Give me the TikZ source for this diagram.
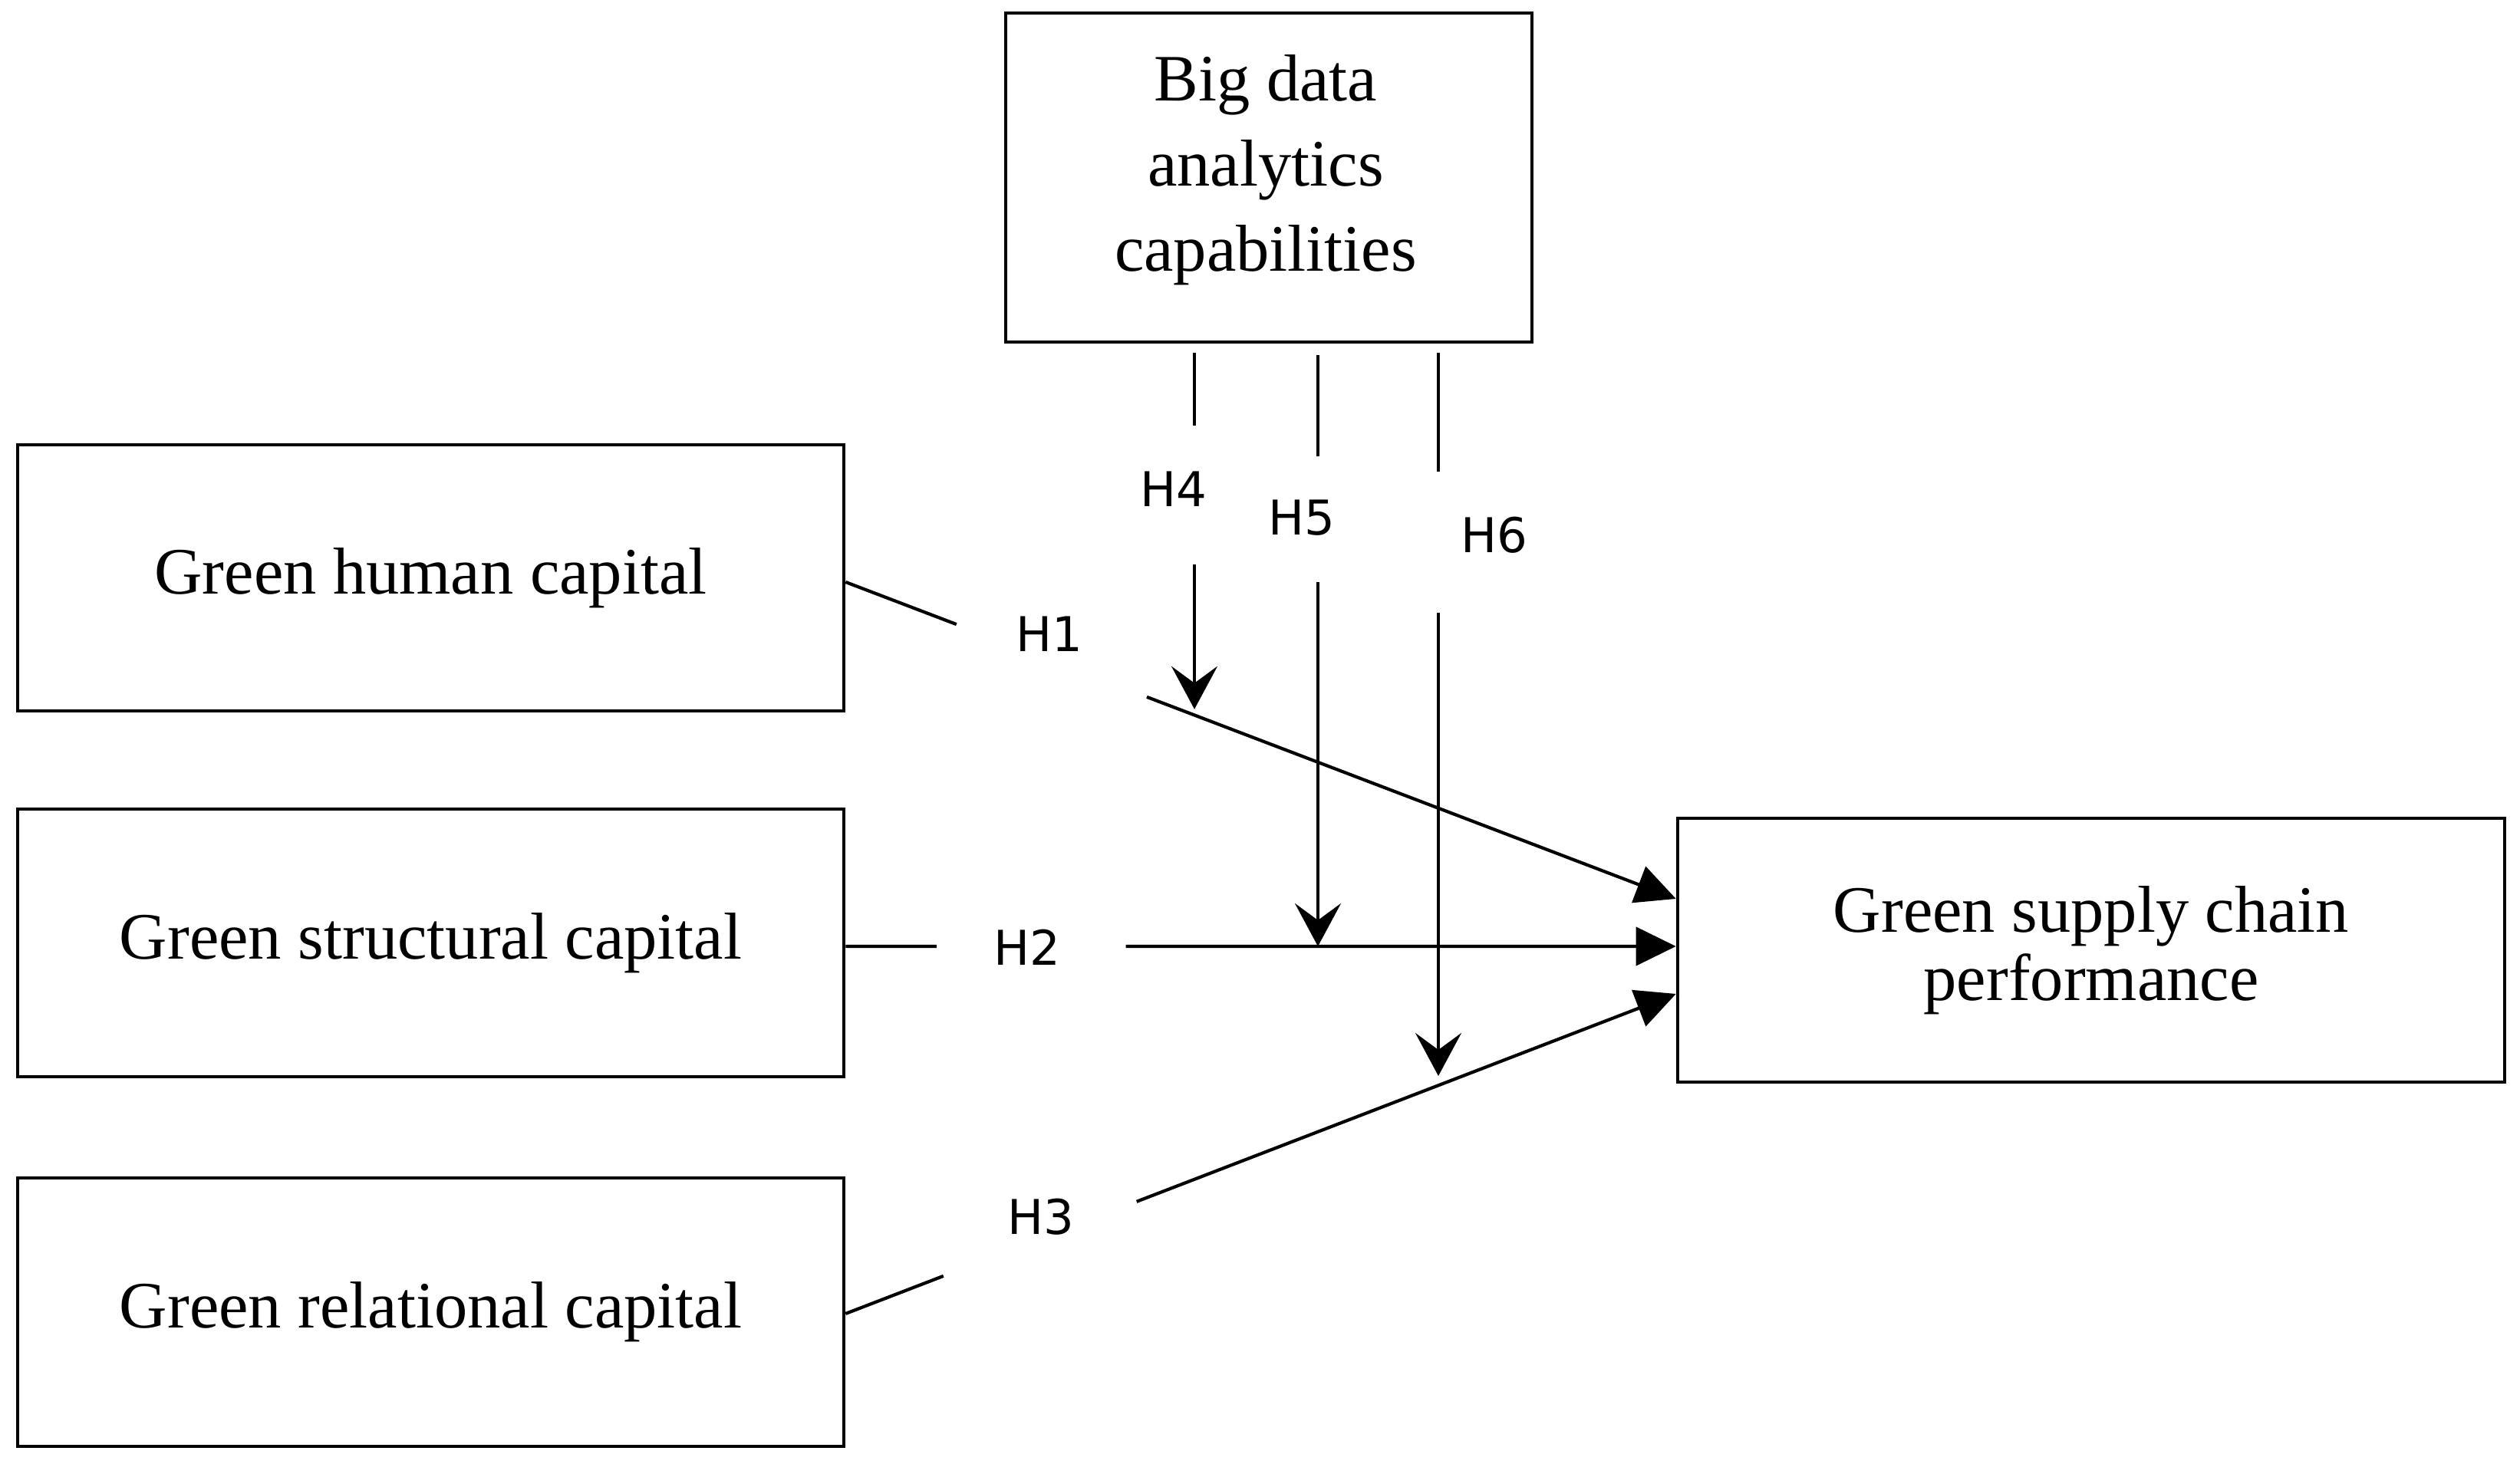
\documentclass[tikz,border=0pt]{standalone}
\usepackage{fontspec}
\setmainfont{Liberation Serif}
\newfontfamily\lblfont{DejaVu Sans}
\usetikzlibrary{arrows.meta,calc}
\begin{document}
\begin{tikzpicture}[
  box/.style={draw=black, line width=1.3pt, rectangle, align=center, inner sep=0pt,
              font=\fontsize{24.6}{31.6}\selectfont},
  hlabel/.style={font=\lblfont\fontsize{17.8}{20}\selectfont, inner sep=0pt},
  conn/.style={draw=black, line width=1.2pt},
  mainarr/.style={conn, -{Triangle[length=5.2mm,width=5mm]}},
  modarr/.style={conn, -{Stealth[length=5.6mm,width=6mm,inset=2.2mm]}}
]
\useasboundingbox (0,0) rectangle (32.85,19.09);

% boxes
\node[box, minimum width=6.86cm, minimum height=4.29cm] (bda) at (16.54,16.775) {};
\node[font=\fontsize{24.6}{31.6}\selectfont, align=center, inner sep=0pt] (bdatext)
  at ($(bda.center)+(-0.04,0.1)$) {Big data\\analytics\\capabilities};
\node[box, minimum width=10.77cm, minimum height=3.47cm] (ghc) at (5.615,11.555)
  {\raisebox{0.05cm}{Green human capital}};
\node[box, minimum width=10.77cm, minimum height=3.49cm] (gsc) at (5.615,6.795)
  {Green structural capital};
\node[box, minimum width=10.77cm, minimum height=3.50cm] (grc) at (5.615,1.98)
  {Green relational capital};
\node[box, minimum width=10.78cm, minimum height=3.44cm,
      font=\fontsize{24.6}{25.3}\selectfont] (gscp) at (27.26,6.70)
  {Green supply chain\\performance};

% hypothesis labels
\node[hlabel] (H1) at (13.68,10.82) {H1};
\node[hlabel] (H2) at (13.39,6.74) {H2};
\node[hlabel] (H3) at (13.57,3.22) {H3};
\node[hlabel] (H4) at (15.30,12.71) {H4};
\node[hlabel] (H5) at (16.97,12.34) {H5};
\node[hlabel] (H6) at (19.48,12.11) {H6};

% direct paths (with gaps for labels)
\coordinate (h1s) at ($(ghc.east)+(0,-0.055)$);
\coordinate (h1e) at ($(gscp.west)+(0,0.67)$);
\coordinate (h1a) at ($(h1s)!0.1335!(h1e)$);
\coordinate (h1b) at ($(h1s)!0.3628!(h1e)$);
\draw[conn] (h1s) -- (h1a);
\draw[mainarr] (h1b) -- (h1e);

\coordinate (h2s) at ($(gsc.east)+(0,-0.045)$);
\coordinate (h2e) at ($(gscp.west)+(0,0.05)$);
\coordinate (h2a) at ($(h2s)!0.1095!(h2e)$);
\coordinate (h2b) at ($(h2s)!0.3376!(h2e)$);
\draw[conn] (h2s) -- (h2a);
\draw[mainarr] (h2b) -- (h2e);

\coordinate (h3s) at ($(grc.east)+(0,-0.02)$);
\coordinate (h3e) at ($(gscp.west)+(0,-0.57)$);
\coordinate (h3a) at ($(h3s)!0.1178!(h3e)$);
\coordinate (h3b) at ($(h3s)!0.3505!(h3e)$);
\draw[conn] (h3s) -- (h3a);
\draw[mainarr] (h3b) -- (h3e);

% moderating paths
\coordinate (m4a) at (15.57,14.49);
\coordinate (m4b) at (15.57,13.54);
\coordinate (m4c) at (15.57,11.73);
\coordinate (p4) at ($(h1s)!0.4208!(h1e)$);
\coordinate (m4t) at ($(m4c |- p4)+(0,0.08)$);
\draw[conn] (m4a) -- (m4b);
\draw[modarr] (m4c) -- (m4t);

\coordinate (m5a) at (17.18,14.46);
\coordinate (m5b) at (17.18,13.14);
\coordinate (m5c) at (17.18,11.50);
\coordinate (m5t) at (m5c |- h2e);
\draw[conn] (m5a) -- (m5b);
\draw[modarr] (m5c) -- (m5t);

\coordinate (m6a) at (18.75,14.49);
\coordinate (m6b) at (18.75,12.94);
\coordinate (m6c) at (18.75,11.10);
\coordinate (m6t) at (18.75,5.06);
\draw[conn] (m6a) -- (m6b);
\draw[modarr] (m6c) -- (m6t);
\end{tikzpicture}
\end{document}
